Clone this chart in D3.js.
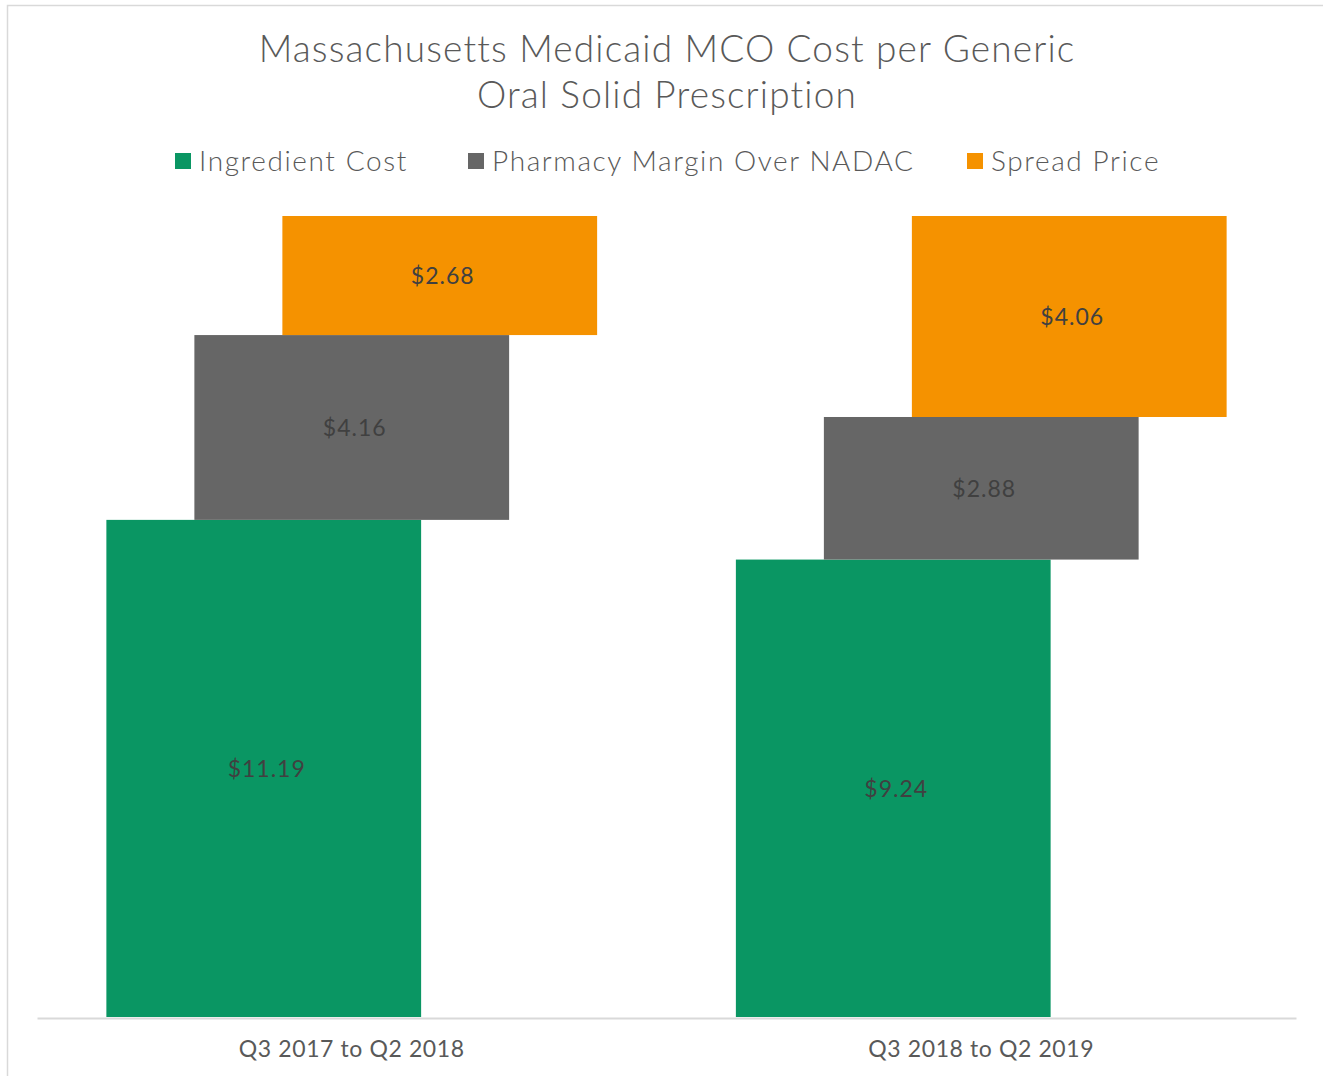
<!DOCTYPE html>
<html>
<head>
<meta charset="utf-8">
<script src="https://cdn.jsdelivr.net/npm/d3@7"></script>
<style>
  html, body { margin: 0; padding: 0; background: #fff; }
  svg { display: block; font-family: Lato, "Open Sans", sans-serif; }
</style>
</head>
<body>
<svg id="chart" width="1323" height="1076"></svg>
<script>
// Per-period cost components (USD per prescription)
const periods = ["Q3 2017 to Q2 2018", "Q3 2018 to Q2 2019"];
const seriesNames = ["Ingredient Cost", "Pharmacy Margin Over NADAC", "Spread Price"];
const ingredientCost = [11.19, 9.24];
const pharmacyMargin = [4.16, 2.88];
const spreadPrice = [2.68, 4.06];
const seriesColors = ["#0a9663", "#666666", "#f59200"];
const titleLines = ["Massachusetts Medicaid MCO Cost per Generic", "Oral Solid Prescription"];

const rows = periods.map((p, i) => ({
  period: p,
  "Ingredient Cost": ingredientCost[i],
  "Pharmacy Margin Over NADAC": pharmacyMargin[i],
  "Spread Price": spreadPrice[i]
}));

const svg = d3.select("#chart");
const W = 1323, H = 1076;
const plot = { left: 37, right: 1296, top: 216, bottom: 1017 };

// chart frame
svg.append("rect")
  .attr("x", 7.5).attr("y", 5.5)
  .attr("width", W + 10).attr("height", H + 10)
  .attr("fill", "#fff").attr("stroke", "#d9d9d9").attr("stroke-width", 1.5);

// title
svg.append("text")
  .attr("text-anchor", "middle")
  .attr("fill", "#595959")
  .attr("font-size", 37)
  .attr("font-weight", 300)
  .attr("letter-spacing", 1.15)
  .selectAll("tspan").data(titleLines).join("tspan")
  .attr("x", 667)
  .attr("y", (d, i) => 62 + i * 46)
  .text(d => d);

// stacked layout, each column normalised to its own total
const stack = d3.stack().keys(seriesNames).offset(d3.stackOffsetExpand);
const layers = stack(rows);

const x = d3.scaleBand().domain(periods).range([plot.left, plot.right]).padding(0);
const y = d3.scaleLinear().domain([0, 1]).range([plot.bottom, plot.top]);
const color = d3.scaleOrdinal().domain(seriesNames).range(seriesColors);

const barW = x.bandwidth() * 0.5;
const shift = d3.scaleLinear().domain([0, seriesNames.length - 1]).range([-88, 88]);

const g = svg.append("g");
layers.forEach((layer, li) => {
  const cx = d => x(d.data.period) + x.bandwidth() / 2 + shift(li);
  g.selectAll(null).data(layer).join("rect")
    .attr("x", d => cx(d) - barW / 2)
    .attr("y", d => y(d[1]))
    .attr("width", barW)
    .attr("height", d => y(d[0]) - y(d[1]))
    .attr("fill", color(layer.key));
  g.selectAll(null).data(layer).join("text")
    .attr("x", d => cx(d) + 3)
    .attr("y", d => (y(d[0]) + y(d[1])) / 2)
    .attr("dy", "0.36em")
    .attr("text-anchor", "middle")
    .attr("font-size", 23)
    .attr("letter-spacing", 1)
    .attr("fill", "#404040")
    .text(d => "$" + d3.format(".2f")(d.data[layer.key]));
});

// category axis
const xAxis = svg.append("g")
  .attr("transform", `translate(0,${plot.bottom + 1})`)
  .call(d3.axisBottom(x).tickSize(0).tickPadding(23));
xAxis.select(".domain").attr("stroke", "#d9d9d9").attr("stroke-width", 2);
xAxis.selectAll("text")
  .attr("font-family", "Lato, 'Open Sans', sans-serif")
  .attr("font-size", 23)
  .attr("letter-spacing", 0.6)
  .attr("fill", "#595959");

// legend
const legendX = [175, 468, 967];
const legend = svg.append("g").selectAll("g").data(seriesNames).join("g")
  .attr("transform", (d, i) => `translate(${legendX[i]},153)`);
legend.append("rect")
  .attr("width", 16).attr("height", 16)
  .attr("fill", d => color(d));
legend.append("text")
  .attr("x", 24).attr("y", 8)
  .attr("dy", "0.36em")
  .attr("font-size", 28)
  .attr("font-weight", 300)
  .attr("letter-spacing", 1.6)
  .attr("fill", "#595959")
  .text(d => d);
</script>
</body>
</html>
